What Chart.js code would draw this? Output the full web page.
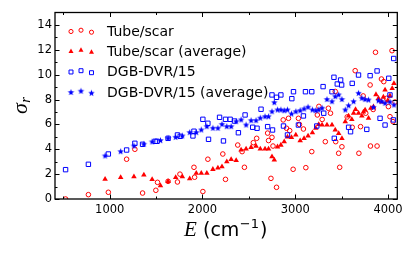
<!DOCTYPE html>
<html>
<head>
<meta charset="utf-8">
<script src="https://cdn.jsdelivr.net/npm/chart.js@4.4.0/dist/chart.umd.min.js"></script>
<style>
    html, body { margin: 0; padding: 0; background: #ffffff; }
    #chart { display: block; }
</style>
</head>
<body>
<canvas id="chart" width="416" height="258"></canvas>
<script>
// Values: [E (cm^-1), sigma_r]
const tubeScar = [
    [524, 0.0], [770, 0.35], [985, 0.54], [1182, 3.2], [1271, 4.0], [1354, 0.48],
    [1497, 0.7], [1515, 1.34], [1629, 1.42], [1730, 1.37], [1757, 2.0], [1908, 2.55],
    [1915, 1.75], [2004, 0.6], [2058, 3.2], [2219, 3.62], [2248, 1.58], [2380, 4.34],
    [2427, 3.81], [2452, 2.55], [2548, 4.53], [2584, 4.88], [2702, 5.3], [2712, 4.7],
    [2738, 1.66], [2749, 4.96], [2760, 4.26], [2798, 0.94], [2870, 6.36], [2906, 5.69],
    [2927, 6.49], [2940, 5.5], [2977, 2.39], [3034, 6.49], [3045, 6.0], [3088, 5.63],
    [3114, 2.52], [3178, 3.81], [3238, 6.76], [3255, 7.45], [3290, 6.4], [3324, 4.61],
    [3357, 7.3], [3380, 6.9], [3431, 8.65], [3436, 4.61], [3468, 3.68], [3479, 2.55],
    [3503, 4.2], [3560, 6.6], [3614, 5.77], [3646, 10.32], [3686, 3.68], [3704, 5.82],
    [3732, 8.29], [3760, 6.9], [3807, 9.17], [3811, 4.26], [3840, 7.2], [3865, 11.8],
    [3882, 4.26], [3929, 9.65], [3954, 9.44], [3985, 8.1], [4004, 7.43], [4021, 6.62],
    [4043, 11.93], [4054, 6.22], [4075, 7.8]
];

const tubeScarAvg = [
    [950, 1.6], [1118, 1.74], [1261, 1.8], [1368, 1.93], [1457, 1.58], [1547, 1.07],
    [1629, 1.42], [1711, 1.74], [1783, 1.8], [1862, 1.63], [1933, 2.07], [1987, 2.07],
    [2047, 2.07], [2112, 2.39], [2166, 2.5], [2210, 2.6], [2262, 3.0], [2309, 3.19],
    [2363, 3.1], [2416, 3.94], [2470, 4.02], [2524, 4.16], [2577, 4.26], [2623, 4.02],
    [2674, 4.02], [2712, 4.02], [2749, 3.4], [2774, 3.14], [2809, 4.2], [2845, 4.34],
    [2881, 4.61], [2916, 5.0], [2959, 4.96], [3006, 5.15], [3053, 4.69], [3095, 4.88],
    [3138, 5.07], [3185, 5.33], [3221, 5.69], [3253, 6.0], [3289, 5.95], [3342, 5.95],
    [3396, 5.95], [3431, 5.55], [3468, 5.28], [3503, 4.88], [3539, 6.22], [3575, 6.68],
    [3610, 6.4], [3629, 6.9], [3650, 7.2], [3682, 6.9], [3718, 6.68], [3735, 7.0],
    [3753, 7.16], [3790, 6.5], [3815, 7.3], [3843, 7.43], [3870, 8.4], [3897, 8.1],
    [3932, 7.8], [3950, 8.2], [3968, 8.77], [3995, 7.9], [4021, 8.3], [4045, 8.9],
    [4064, 9.3]
];

const dgbDvr = [
    [524, 2.36], [770, 2.79], [985, 3.62], [1182, 3.94], [1271, 4.48], [1354, 4.4],
    [1490, 4.64], [1510, 4.64], [1629, 4.88], [1730, 5.15], [1760, 5.04], [1897, 5.07],
    [1908, 5.45], [2004, 6.41], [2058, 6.09], [2065, 4.8], [2184, 6.57], [2226, 4.67],
    [2248, 6.41], [2298, 6.41], [2345, 6.27], [2387, 5.33], [2459, 6.76], [2541, 5.77],
    [2588, 5.69], [2631, 7.22], [2702, 5.82], [2749, 8.37], [2755, 5.55], [2798, 8.18],
    [2845, 8.37], [2873, 5.87], [2916, 5.15], [2963, 8.07], [2981, 8.63], [3034, 5.95],
    [3088, 6.68], [3110, 8.63], [3178, 8.63], [3232, 5.87], [3300, 9.04], [3307, 6.9],
    [3396, 8.63], [3417, 9.79], [3421, 4.88], [3453, 9.25], [3489, 9.57], [3500, 9.17],
    [3575, 5.77], [3596, 5.41], [3614, 9.3], [3682, 9.97], [3771, 5.6], [3807, 9.92],
    [3882, 10.3], [3914, 6.49], [3968, 5.95], [4008, 9.71], [4021, 8.37], [4058, 6.36],
    [4061, 11.3]
];

const dgbDvrAvg = [
    [950, 3.46], [1118, 3.81], [1261, 4.26], [1368, 4.4], [1457, 4.59], [1547, 4.7],
    [1629, 4.88], [1711, 4.96], [1783, 5.07], [1862, 5.34], [1933, 5.34], [1987, 5.55],
    [2047, 5.82], [2112, 5.69], [2166, 5.69], [2210, 6.0], [2262, 5.82], [2309, 5.82],
    [2363, 6.22], [2416, 6.36], [2470, 5.95], [2524, 6.3], [2577, 6.3], [2623, 6.5],
    [2674, 6.62], [2712, 6.62], [2749, 7.02], [2774, 7.75], [2809, 7.16], [2845, 7.16],
    [2881, 7.1], [2916, 7.16], [2959, 6.84], [3006, 7.02], [3053, 7.1], [3095, 7.24],
    [3138, 7.38], [3185, 7.16], [3221, 7.1], [3253, 7.16], [3289, 7.3], [3342, 8.0],
    [3396, 7.83], [3431, 8.23], [3468, 8.37], [3503, 8.0], [3539, 7.16], [3575, 7.5],
    [3629, 7.83], [3682, 8.5], [3718, 8.1], [3753, 8.0], [3790, 7.96], [3843, 7.37],
    [3897, 7.9], [3932, 7.83], [3968, 7.7], [4021, 7.8], [4064, 7.56]
];

const seriesLabels = ['Tube/scar', 'Tube/scar (average)', 'DGB-DVR/15', 'DGB-DVR/15 (average)'];
const xTicks = [1000, 2000, 3000, 4000];
const xMinor = [500, 1500, 2500, 3500];
const yTicks = [0, 2, 4, 6, 8, 10, 12, 14];
const yMinor = [1, 3, 5, 7, 9, 11, 13];

const RED = '#ff0000';
const BLUE = '#0000ff';
const TICK_FONT = '"DejaVu Sans", sans-serif';

// filled five-point star like matplotlib '*'
function makeStar(rOut, color) {
    const c = document.createElement('canvas');
    const s = Math.ceil(rOut * 2 + 2);
    c.width = s;
    c.height = s;
    const g = c.getContext('2d');
    const rIn = rOut * 0.42;
    g.beginPath();
    for (let i = 0; i < 10; i++) {
        const r = i % 2 === 0 ? rOut : rIn;
        const a = -Math.PI / 2 + i * Math.PI / 5;
        const px = s / 2 + r * Math.cos(a);
        const py = s / 2 + r * Math.sin(a);
        if (i === 0) g.moveTo(px, py); else g.lineTo(px, py);
    }
    g.closePath();
    g.fillStyle = color;
    g.fill();
    return c;
}

const starImg = makeStar(3.4, BLUE);

const toPoints = arr => arr.map(p => ({ x: p[0], y: p[1] }));

const datasets = [
    {
        label: seriesLabels[0],
        data: toPoints(tubeScar),
        pointStyle: 'circle',
        pointRadius: 2.3,
        borderWidth: 1,
        borderColor: RED,
        backgroundColor: 'rgba(0,0,0,0)',
        order: 4
    },
    {
        label: seriesLabels[1],
        data: toPoints(tubeScarAvg),
        pointStyle: 'triangle',
        pointRadius: 3.2,
        borderWidth: 0,
        borderColor: RED,
        backgroundColor: RED,
        order: 3
    },
    {
        label: seriesLabels[2],
        data: toPoints(dgbDvr),
        pointStyle: 'rect',
        pointRadius: 3.1,
        borderWidth: 1,
        borderColor: BLUE,
        backgroundColor: 'rgba(0,0,0,0)',
        order: 2
    },
    {
        label: seriesLabels[3],
        data: toPoints(dgbDvrAvg),
        pointStyle: starImg,
        pointRadius: 3.4,
        borderWidth: 0,
        borderColor: BLUE,
        backgroundColor: BLUE,
        order: 1
    }
];

// frame + inward ticks on all four sides, legend and axis titles
const decorPlugin = {
    id: 'decor',
    afterDatasetsDraw(chart) {
        const { ctx, chartArea: a, scales } = chart;
        const xs = scales.x, ys = scales.y;
        ctx.save();
        ctx.strokeStyle = '#000000';
        ctx.lineWidth = 1;
        const tick = (x1, y1, x2, y2) => {
            ctx.beginPath();
            ctx.moveTo(x1, y1);
            ctx.lineTo(x2, y2);
            ctx.stroke();
        };
        xTicks.forEach(v => {
            const x = Math.round(xs.getPixelForValue(v)) + 0.5;
            tick(x, a.bottom, x, a.bottom - 4.5);
            tick(x, a.top, x, a.top + 4.5);
        });
        xMinor.forEach(v => {
            const x = Math.round(xs.getPixelForValue(v)) + 0.5;
            tick(x, a.bottom, x, a.bottom - 2.5);
            tick(x, a.top, x, a.top + 2.5);
        });
        yTicks.forEach(v => {
            const y = Math.round(ys.getPixelForValue(v)) + 0.5;
            tick(a.left, y, a.left + 4.5, y);
            tick(a.right, y, a.right - 4.5, y);
        });
        yMinor.forEach(v => {
            const y = Math.round(ys.getPixelForValue(v)) + 0.5;
            tick(a.left, y, a.left + 2.5, y);
            tick(a.right, y, a.right - 2.5, y);
        });
        ctx.lineWidth = 1.3;
        ctx.strokeRect(a.left, a.top, a.right - a.left, a.bottom - a.top);

        // legend: three markers per row, matplotlib scatter style
        const rows = [31.5, 51.5, 72, 92.5];
        const mx = [71, 81, 91.5];
        const dy = [0, -1.3, 0.7];
        chart.data.datasets.forEach((ds, i) => {
            ctx.fillStyle = ds.backgroundColor;
            ctx.strokeStyle = ds.borderColor;
            ctx.lineWidth = ds.borderWidth;
            mx.forEach((x, k) => {
                Chart.helpers.drawPoint(ctx, {
                    pointStyle: ds.pointStyle,
                    radius: ds.pointRadius * 0.9,
                    rotation: 0,
                    borderWidth: ds.borderWidth
                }, x, rows[i] + dy[k]);
            });
            ctx.fillStyle = '#000000';
            ctx.font = '14px ' + TICK_FONT;
            ctx.textAlign = 'left';
            ctx.textBaseline = 'middle';
            ctx.fillText(ds.label, 107, rows[i] + 0.5);
        });

        // x axis title: E (cm^-1)
        ctx.fillStyle = '#000000';
        ctx.textBaseline = 'alphabetic';
        ctx.textAlign = 'left';
        ctx.font = 'italic 21px "Liberation Serif", serif';
        ctx.fillText('E', 184, 236);
        let cx = 203;
        ctx.font = '19px ' + TICK_FONT;
        ctx.fillText('(cm', cx, 236);
        cx += ctx.measureText('(cm').width;
        ctx.font = '13px ' + TICK_FONT;
        ctx.fillText('\u22121', cx + 0.5, 228);
        cx += ctx.measureText('\u22121').width + 1.5;
        ctx.font = '19px ' + TICK_FONT;
        ctx.fillText(')', cx, 236);

        // y axis title: sigma_r
        ctx.save();
        ctx.translate(27, 114);
        ctx.rotate(-Math.PI / 2);
        ctx.font = 'italic 22px "Liberation Serif", serif';
        ctx.fillText('\u03c3', 0, 0);
        const w = ctx.measureText('\u03c3').width;
        ctx.font = 'italic 15px "Liberation Serif", serif';
        ctx.fillText('r', w + 0.5, 3);
        ctx.restore();

        ctx.restore();
    }
};

new Chart(document.getElementById('chart').getContext('2d'), {
    type: 'scatter',
    data: { datasets },
    options: {
        responsive: false,
        animation: false,
        devicePixelRatio: 1,
        layout: { padding: { top: 12.5, right: 18.7, bottom: 0, left: 0 } },
        plugins: {
            legend: { display: false },
            tooltip: { enabled: false }
        },
        scales: {
            x: {
                type: 'linear',
                min: 410,
                max: 4100,
                afterBuildTicks: s => { s.ticks = xTicks.map(v => ({ value: v })); },
                afterFit: s => { s.height = 59; },
                grid: { display: false, drawTicks: false },
                border: { display: false },
                ticks: {
                    color: '#000000',
                    padding: 4,
                    maxRotation: 0,
                    callback: v => String(v),
                    font: { family: TICK_FONT, size: 11.5 }
                }
            },
            y: {
                type: 'linear',
                min: 0,
                max: 15,
                afterBuildTicks: s => { s.ticks = yTicks.map(v => ({ value: v })); },
                afterFit: s => { s.width = 55; },
                grid: { display: false, drawTicks: false },
                border: { display: false },
                ticks: {
                    color: '#000000',
                    padding: 3,
                    callback: v => String(v),
                    font: { family: TICK_FONT, size: 11.5 }
                }
            }
        }
    },
    plugins: [decorPlugin]
});
</script>
</body>
</html>
